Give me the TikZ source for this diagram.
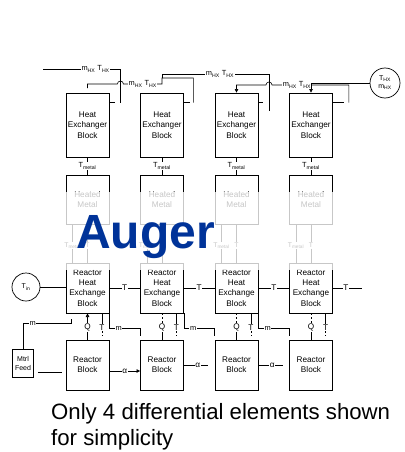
\documentclass[tikz,border=0pt]{standalone}
\usepackage{fontspec}
\setmainfont{Liberation Sans}
\usetikzlibrary{arrows.meta,calc}
\definecolor{augerblue}{RGB}{0,51,153}
\newcommand{\mhxlabel}{m\textsubscript{HX} T\textsubscript{HX}}
\begin{document}
\begin{tikzpicture}[x=1pt,y=-1pt,
  box/.style={draw,line width=0.8pt,minimum width=43pt,inner sep=1pt,align=center,
    font=\fontsize{8.2}{10.4}\selectfont},
  wire/.style={line width=0.6pt},
  lbl/.style={fill=white,inner sep=0.6pt,font=\fontsize{7.4}{8}\selectfont},
  qt/.style={inner sep=0.6pt,font=\fontsize{8.2}{9}\selectfont},
  dshd/.style={dash pattern=on 2.4pt off 1.6pt},
  tip/.style={-{Triangle[length=3.6pt,width=3.6pt]}},
  ring/.style={draw,line width=0.7pt,circle,inner sep=0pt,align=center,
    font=\fontsize{7}{8}\selectfont}
]
\useasboundingbox (0,0) rectangle (404,452);

% ---- the four differential elements, one column each
\foreach \i/\x in {1/87.5,2/162,3/236.5,4/311}{
  \node[box,minimum height=64pt] (hx\i)  at (\x,125)   {Heat\\Exchanger\\Block};
  \node[box,minimum height=49pt] (hm\i)  at (\x,199.5) {Heated\\Metal};
  \node[box,minimum height=50pt] (rhx\i) at (\x,288)   {Reactor\\Heat\\Exchange\\Block};
  \node[box,minimum height=50pt] (rb\i)  at (\x,365)   {Reactor\\Block};
  % metal temperature from the heat exchanger block
  \draw[wire] (hx\i.south) -- node[lbl]{T\textsubscript{metal}} (hm\i.north);
  % heated metal <-> reactor heat exchange
  \node[lbl,font=\fontsize{6.8}{7}\selectfont] (tm\i) at ($(hm\i.south)+(-15,21)$) {T\textsubscript{metal}};
  \node[lbl,font=\fontsize{6.8}{7}\selectfont] (tt\i) at ($(hm\i.south)+(0,21)$) {T};
  \draw[wire] (hm\i.south -| tm\i) -- (tm\i.north);
  \draw[wire] (tm\i.south) -- (rhx\i.north -| tm\i);
  \draw[wire] (hm\i.south -| tt\i) -- (tt\i.north);
  \draw[wire] (tt\i.south) -- (rhx\i.north -| tt\i);
  % heat duty and temperature between reactor heat exchange and reactor
  \node[qt] (q\i) at ($(rhx\i.south)+(0,14)$) {Q};
  \node[qt] (t\i) at ($(rhx\i.south)+(14.5,14)$) {T};
  \draw[wire] (rb\i.north) -- (q\i.south);
  \draw[wire] (rhx\i.south -| t\i) -- (t\i.north);
  \draw[wire,dshd,shorten >=4pt] (t\i.south) -- (rb\i.north -| t\i);
}
\foreach \i in {2,3,4} \draw[wire,dshd] (q\i.north) -- (rhx\i.south);
\draw[wire,tip] (q1.north) -- (rhx1.south);

% ---- heat exchanger outlet stubs
\foreach \i/\l in {1/6,2/6,3/5,4/11}
  \draw[wire] ($(hx\i.north east)+(0,10)$) -- ++(\l,0);

% ---- heat exchange fluid, counter-current from the source on the right
\coordinate (hxexit) at (43,69);
\draw[wire] ($(hx1.north east)+(11,10)$) |- node[lbl,pos=0.66]{\mhxlabel} (hxexit);

\draw[wire] ($(hx2.north east)+(9.5,10)$) |- ($(hx2.north)+(0,-14.6)$)
  -- ($(hx2.north)+(0,-8.6)$)
  -- node[lbl]{\mhxlabel} ($(hx1.north east)+(14,-8.6)$)
  arc[start angle=0,end angle=-180,radius=3]
  -- ($(hx1.north)+(0,-8.6)$) -- ($(hx1.north)+(0,-4.6)$);

\draw[wire] ($(hx3.north east)+(11,18)$) |- node[lbl,pos=0.73]{\mhxlabel}
  ($(hx2.north)+(0,-18.6)$) -- ($(hx2.north)+(0,-14.6)$);

\draw[wire,tip] ($(hx4.north east)+(16,10)$) -- ($(hx4.north east)+(16,-7.6)$)
  -- node[lbl,pos=0.675]{\mhxlabel} ($(hx3.north east)+(13.6,-7.6)$)
  arc[start angle=0,end angle=-180,radius=3] -| (hx3.north);

\node[ring,minimum size=30pt] (src) at (385,83) {T\textsubscript{HX}\\m\textsubscript{HX}};
\draw[wire,tip] (src.west) -| (hx4.north);

% ---- reactor heat exchange temperature chain
\node[ring,minimum size=28pt] (tin) at (26,287) {T\textsubscript{in}};
\draw[wire] (tin.east) -- (tin.east -| rhx1.west);
\foreach \i/\j in {1/2,2/3,3/4}
  \draw[wire] (rhx\i.east) -- node[qt,fill=white]{T} (rhx\j.west);
\coordinate (tout) at (362,288);
\draw[wire] (rhx4.east) -- node[qt,fill=white,pos=0.45]{T} (tout);

% ---- mass flow between elements
\foreach \i/\j in {1/2,2/3,3/4}
  \draw[wire] (rhx\i.south east) |- node[lbl,pos=0.65]{m}
    ($(rb\j.north west)+(0,-11)$) -- ++(0,7);

% ---- conversion between reactor blocks
\draw[wire,tip] ($(rb1.east)+(0,6)$) -- node[qt,fill=white]{α} ($(rb2.west)+(0,6)$);
\draw[wire,shorten >=7pt] (rb2.east) -- node[qt,fill=white,pos=0.45]{α} (rb3.west);
\draw[wire,shorten >=6pt] (rb3.east) -- node[qt,fill=white,pos=0.45]{α} (rb4.west);

% ---- material feed
\node[box,minimum width=21.5pt,minimum height=28pt,inner sep=0.5pt,
  font=\fontsize{7}{9}\selectfont] (feed) at (23,363.5) {Mtrl\\Feed};
\draw[wire] (feed.north) |- node[lbl,pos=0.6]{m} ($(rhx1.south west)+(6,10)$)
  -- ($(rhx1.south west)+(6,6)$);
\draw[wire,shorten <=4pt,shorten >=4pt] ($(feed.east)+(0,9)$) -- ($(feed.east -| rb1.west)+(0,9)$);

% ---- veil over the heated metal layer
\fill[white,opacity=0.78] (0,192) rectangle (404,270);

\node[anchor=base west,inner sep=0pt,text=augerblue,
  font=\bfseries\fontsize{48}{48}\selectfont] (auger) at (76,248) {Auger};

\node[anchor=north west,inner sep=0pt,align=left,
  font=\fontsize{22.2}{26}\selectfont] (note) at (51,403)
  {Only 4 differential elements shown\\for simplicity};
\end{tikzpicture}
\end{document}
